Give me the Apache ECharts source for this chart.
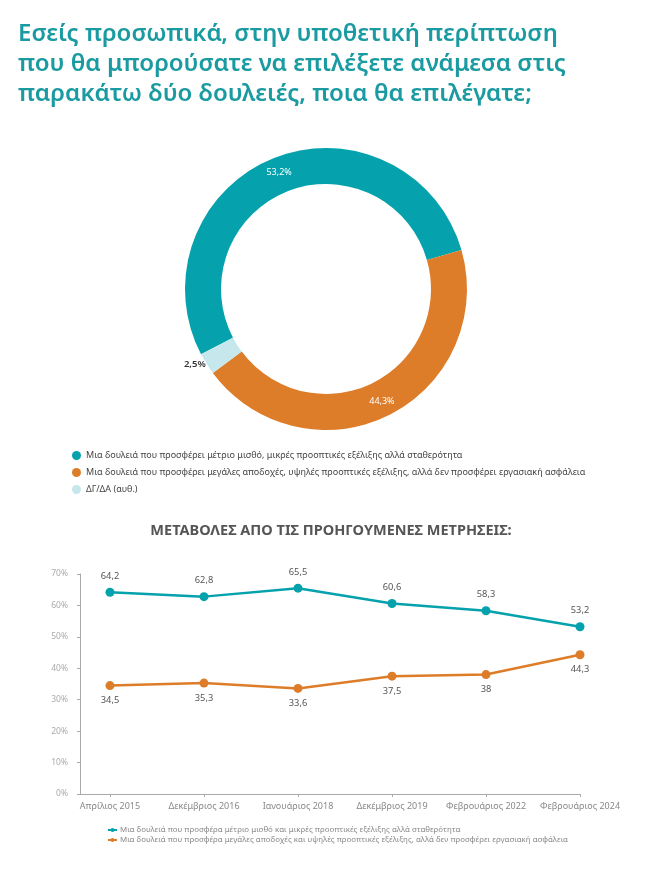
<!DOCTYPE html>
<html><head><meta charset="utf-8">
<script src="https://cdn.jsdelivr.net/npm/echarts@6/dist/echarts.min.js"></script>
<style>html,body{margin:0;padding:0;background:#fff;}#c{width:662px;height:874px;}</style>
</head><body><div id="c"></div>
<script>
const title = ['Εσείς προσωπικά, στην υποθετική περίπτωση', 'που θα μπορούσατε να επιλέξετε ανάμεσα στις', 'παρακάτω δύο δουλειές, ποια θα επιλέγατε;'];
const pieNames = ['Μια δουλειά που προσφέρει μέτριο μισθό, μικρές προοπτικές εξέλιξης αλλά σταθερότητα', 'Μια δουλειά που προσφέρει μεγάλες αποδοχές, υψηλές προοπτικές εξέλιξης, αλλά δεν προσφέρει εργασιακή ασφάλεια', 'ΔΓ/ΔΑ (αυθ.)'];
const pieValues = [53.2, 44.3, 2.5];
const subtitle = 'ΜΕΤΑΒΟΛΕΣ ΑΠΟ ΤΙΣ ΠΡΟΗΓΟΥΜΕΝΕΣ ΜΕΤΡΗΣΕΙΣ:';
const periods = ['Απρίλιος 2015', 'Δεκέμβριος 2016', 'Ιανουάριος 2018', 'Δεκέμβριος 2019', 'Φεβρουάριος 2022', 'Φεβρουάριος 2024'];
const lineNames = ['Μια δουλειά που προσφέρα μέτριο μισθό και μικρές προοπτικές εξέλιξης αλλά σταθερότητα', 'Μια δουλειά που προσφέρα μεγάλες αποδοχές και υψηλές προοπτικές εξέλιξης, αλλά δεν προσφέρει εργασιακή ασφάλεια'];
const stable = [64.2, 62.8, 65.5, 60.6, 58.3, 53.2];
const risky = [34.5, 35.3, 33.6, 37.5, 38, 44.3];
const yTicks = [0, 10, 20, 30, 40, 50, 60, 70];

const TEAL = '#05a2ad', ORANGE = '#dd7d29', LIGHT = '#c6e7eb';
const fmt = v => String(v).replace('.', ',');
const chart = echarts.init(document.getElementById('c'));
chart.setOption({
  animation: false,
  textStyle: { fontFamily: 'Noto Sans' },
  title: [
    { text: title.join('\n'), left: 13, top: 14,
      textStyle: { color: '#1a9aa1', fontSize: 24, fontWeight: 600, lineHeight: 30, fontFamily: 'Noto Sans' } },
    { text: subtitle, left: 'center', top: 518,
      textStyle: { color: '#555', fontSize: 14.5, fontWeight: 700, fontFamily: 'Noto Sans' } }
  ],
  legend: [
    { data: pieNames, orient: 'vertical', left: 67, top: 446, itemGap: 8, icon: 'circle', itemWidth: 9, itemHeight: 9,
      textStyle: { color: '#444', fontSize: 9 }, selectedMode: false },
    { data: lineNames, orient: 'vertical', left: 102, top: 821, itemWidth: 9, itemHeight: 5, itemGap: 2,
      textStyle: { color: '#888', fontSize: 7.9, padding: [0, 0, 0, -2] }, selectedMode: false }
  ],
  grid: { left: 80, right: 82, top: 574, bottom: 80 },
  xAxis: {
    type: 'value', min: -0.319, max: periods.length - 1,
    splitLine: { show: false },
    axisLine: { show: true, onZero: false, lineStyle: { color: '#aaa' } },
    axisTick: { show: true, customValues: periods.map((p, i) => i), length: 3, lineStyle: { color: '#aaa' } },
    axisLabel: { customValues: periods.map((p, i) => i), formatter: v => periods[Math.round(v)] || '',
      color: '#888', fontSize: 9, margin: 8 }
  },
  yAxis: {
    type: 'value', min: 0, max: 70, interval: 10,
    splitLine: { show: false },
    axisLine: { show: true, onZero: false, lineStyle: { color: '#aaa' } },
    axisTick: { show: true, length: 3, lineStyle: { color: '#aaa' } },
    axisLabel: { formatter: '{value}%', color: '#aaa', fontSize: 8.5, margin: 12 }
  },
  series: [
    { type: 'pie', center: [326, 289], radius: [105, 141], startAngle: 207.6, clockwise: true,
      silent: true, legendHoverLink: false,
      label: { show: true, position: 'inside', color: '#fff', fontSize: 9, formatter: p => fmt(p.value) + '%' },
      labelLine: { show: false },
      data: pieNames.map((n, i) => {
        const d = { name: n, value: pieValues[i], itemStyle: { color: [TEAL, ORANGE, LIGHT][i] } };
        if (i === 2) {
          d.label = { position: 'outside', color: '#333', fontWeight: 600, fontSize: 9.5, distanceToLabelLine: 0 };
          d.labelLine = { show: false, length: 1, length2: 0 };
        }
        return d;
      })
    },
    { type: 'line', name: lineNames[0], data: stable.map((v, i) => [i, v]), color: TEAL,
      symbol: 'circle', symbolSize: 9, lineStyle: { width: 2.5 },
      label: { show: true, position: 'top', distance: 7, color: '#555', fontSize: 9.3, formatter: p => fmt(p.value[1]) } },
    { type: 'line', name: lineNames[1], data: risky.map((v, i) => [i, v]), color: ORANGE,
      symbol: 'circle', symbolSize: 9, lineStyle: { width: 2.5 },
      label: { show: true, position: 'bottom', distance: 6, color: '#555', fontSize: 9.3, formatter: p => fmt(p.value[1]) } }
  ]
});
</script></body></html>
